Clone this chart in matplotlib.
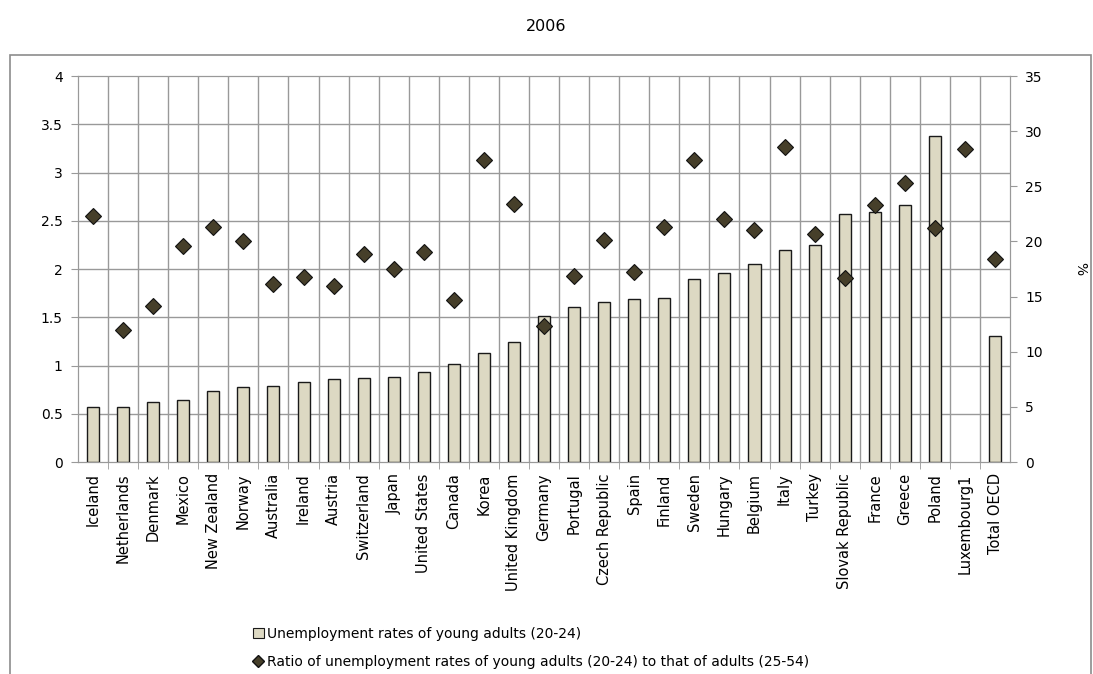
import numpy as np
import matplotlib
matplotlib.use("Agg")
from matplotlib import pyplot as plt
from matplotlib.ticker import FixedLocator, MultipleLocator
from matplotlib.patches import Rectangle
from matplotlib.lines import Line2D

plt.rcParams['font.family'] = ['DejaVu Sans']

# zemlje (poredane po stopi nezaposlenosti mladih)
zemlje = ["Iceland", "Netherlands", "Denmark", "Mexico", "New Zealand", "Norway",
          "Australia", "Ireland", "Austria", "Switzerland", "Japan", "United States",
          "Canada", "Korea", "United Kingdom", "Germany", "Portugal", "Czech Republic",
          "Spain", "Finland", "Sweden", "Hungary", "Belgium", "Italy", "Turkey",
          "Slovak Republic", "France", "Greece", "Poland", "Luxembourg1", "Total OECD"]

# stopa nezaposlenosti mladih (20-24), % - desna os
stopa = [5.0, 5.0, 5.4, 5.6, 6.4, 6.8, 6.9, 7.3, 7.5, 7.6, 7.7, 8.2, 8.9, 9.9,
         10.9, 13.2, 14.1, 14.5, 14.8, 14.9, 16.6, 17.1, 18.0, 19.2, 19.7,
         22.5, 22.7, 23.3, 29.6, np.nan, 11.4]

# omjer stope mladih (20-24) i odraslih (25-54) - lijeva os
omjer = [2.55, 1.37, 1.62, 2.24, 2.44, 2.29, 1.85, 1.92, 1.82, 2.16, 2.00, 2.18,
         1.68, 3.13, 2.67, 1.41, 1.93, 2.30, 1.97, 2.44, 3.13, 2.52, 2.40, 3.26,
         2.36, 1.91, 2.66, 2.89, 2.43, 3.24, 2.10]

lijeve_oznake = np.arange(0, 4.01, 0.5)

boja_stupca = "#DDD9C3"
boja_romba = "#463F2A"
siva = "#999999"

fig = plt.figure(figsize=(10.93, 6.74), dpi=100)
ax = fig.add_axes([0.0714, 0.3145, 0.8527, 0.5727])
ax2 = ax.twinx()

x = np.arange(len(zemlje))

# stupci na desnoj osi (0-35 %)
ax.bar(x, stopa, width=0.4, color=boja_stupca, edgecolor="#1a1a1a", linewidth=1.0, zorder=3)
ax.set_xlim(-0.5, len(zemlje) - 0.5)
ax.set_ylim(0, 35)
ax.yaxis.tick_right()
ax.yaxis.set_label_position("right")
ax.yaxis.set_major_locator(MultipleLocator(5))
ax.set_ylabel("%", rotation=-90, fontsize=10, labelpad=32)

# mreza prati lijevu os
ax.yaxis.set_minor_locator(FixedLocator(lijeve_oznake * 35 / 4))
ax.xaxis.set_minor_locator(FixedLocator(x[:-1] + 0.5))
ax.grid(which="minor", color=siva, linewidth=1.0, zorder=0)
ax.set_axisbelow(True)
ax.tick_params(axis="y", which="minor", length=0)
ax.tick_params(axis="x", which="minor", length=5, color=siva, direction="out")
ax.tick_params(axis="x", which="major", length=0, pad=8)
ax.tick_params(axis="y", which="major", length=5, color=siva, labelsize=10, pad=6)

ax.set_xticks(x)
ax.set_xticklabels(zemlje, rotation=90, fontsize=10.5)

for s in ax.spines.values():
    s.set_color(siva)

# rombovi na lijevoj osi
ax2.plot(x, omjer, linestyle="none", marker="D", markersize=8,
         markerfacecolor=boja_romba, markeredgecolor="#111111", markeredgewidth=0.8, zorder=4)
ax2.set_ylim(0, 4)
ax2.yaxis.tick_left()
ax2.set_yticks(lijeve_oznake)
ax2.set_yticklabels([f"{v:g}" for v in lijeve_oznake])
ax2.tick_params(axis="y", length=5, color=siva, labelsize=10, pad=6)
for s in ax2.spines.values():
    s.set_color(siva)

fig.text(0.5, 0.96, "2006", ha="center", va="center", fontsize=11.5)

# vanjski okvir
fig.patches.append(Rectangle((0.009, -0.1), 0.989, 1.018, transform=fig.transFigure,
                             fill=False, edgecolor="#8c8c8c", linewidth=1.2))

rucke = [
    Rectangle((0, 0), 1, 1, facecolor=boja_stupca, edgecolor="#1a1a1a", linewidth=0.8),
    Line2D([], [], linestyle="none", marker="D", markersize=6,
           markerfacecolor=boja_romba, markeredgecolor="#111111"),
]
natpisi = ["Unemployment rates of young adults (20-24)",
           "Ratio of unemployment rates of young adults (20-24) to that of adults (25-54)"]
fig.legend(rucke, natpisi, loc="upper left", bbox_to_anchor=(0.226, 0.078),
           frameon=False, fontsize=10, handlelength=0.8, handleheight=0.8,
           handletextpad=0.25, labelspacing=1.0, borderaxespad=0)

fig.savefig("out.png", dpi=100)
